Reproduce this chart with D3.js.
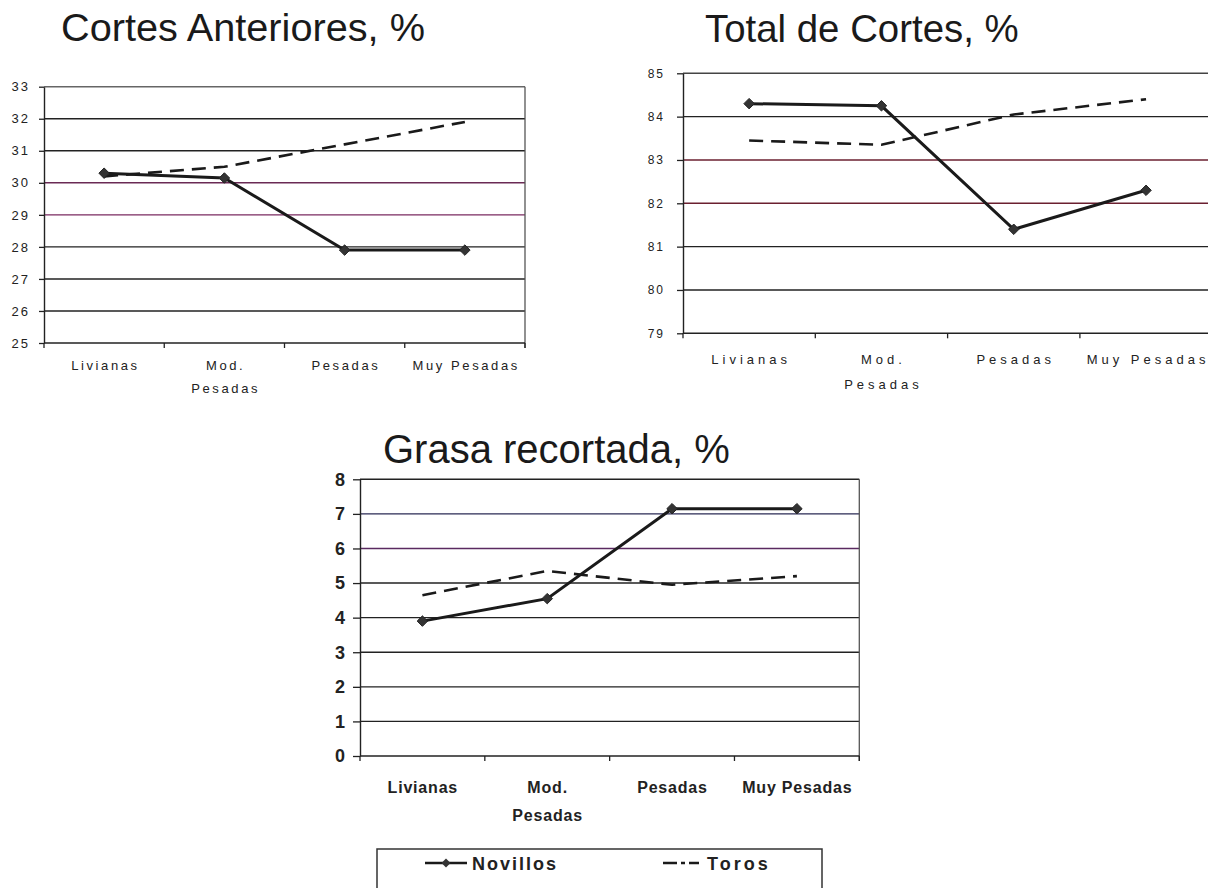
<!DOCTYPE html>
<html>
<head>
<meta charset="utf-8">
<script src="https://cdn.jsdelivr.net/npm/d3@7"></script>
<style>
  html, body { margin: 0; padding: 0; background: #fff; }
  svg { display: block; }
  text { font-family: "Liberation Sans", Arial, sans-serif; fill: #222; }
</style>
</head>
<body>
<svg id="chart" width="1208" height="888"></svg>
<script>
// Categories (weight classes) shared by the three panels
const categories = ["Livianas", "Mod. Pesadas", "Pesadas", "Muy Pesadas"];
const categoryLines = [["Livianas"], ["Mod.", "Pesadas"], ["Pesadas"], ["Muy Pesadas"]];
const seriesNames = ["Novillos", "Toros"];

// Cortes Anteriores, %
const anterioresTicks = [25, 26, 27, 28, 29, 30, 31, 32, 33];
const anterioresNovillos = [30.3, 30.15, 27.9, 27.9];
const anterioresToros = [30.2, 30.5, 31.2, 31.9];

// Total de Cortes, %
const totalTicks = [79, 80, 81, 82, 83, 84, 85];
const totalNovillos = [84.3, 84.25, 81.4, 82.3];
const totalToros = [83.45, 83.35, 84.05, 84.4];

// Grasa recortada, %
const grasaTicks = [0, 1, 2, 3, 4, 5, 6, 7, 8];
const grasaNovillos = [3.9, 4.55, 7.15, 7.15];
const grasaToros = [4.65, 5.35, 4.95, 5.2];

const svg = d3.select("#chart");

// Square-rotated diamond marker
const diamond = {
  draw(ctx, size) {
    const r = Math.sqrt(size) / 2;
    ctx.moveTo(0, -r); ctx.lineTo(r, 0); ctx.lineTo(0, r); ctx.lineTo(-r, 0); ctx.closePath();
  }
};

function drawPanel(cfg) {
  const g = svg.append("g");
  const x = d3.scaleBand().domain(categories).range([cfg.x0, cfg.x1]).paddingInner(0).paddingOuter(0);
  const y = d3.scaleLinear().domain(d3.extent(cfg.ticks)).range([cfg.yBottom, cfg.yTop]);
  const cx = c => x(c) + x.bandwidth() / 2;

  // title
  g.append("text")
    .attr("x", cfg.titleX).attr("y", cfg.titleY)
    .style("font-size", cfg.titleSize + "px")
    .style("fill", "#1a1a1a")
    .text(cfg.title);

  // horizontal gridlines
  g.append("g").selectAll("line")
    .data(cfg.ticks.filter(t => t !== cfg.ticks[0]))
    .join("line")
    .attr("x1", cfg.x0).attr("x2", cfg.gridEnd)
    .attr("y1", d => y(d)).attr("y2", d => y(d))
    .attr("stroke", d => cfg.gridTint[d] || (d === cfg.ticks[cfg.ticks.length - 1] ? cfg.topColor : "#222"))
    .attr("stroke-width", 1.4);

  // right border of plot area
  if (cfg.rightBorder) {
    g.append("line")
      .attr("x1", cfg.x1).attr("x2", cfg.x1)
      .attr("y1", cfg.yTop).attr("y2", cfg.yBottom + 5)
      .attr("stroke", "#555").attr("stroke-width", 1.3);
  }

  // value axis
  const yAxis = d3.axisLeft(y).tickValues(cfg.ticks).tickFormat(d3.format("d"))
    .tickSizeInner(cfg.tickLen).tickSizeOuter(0).tickPadding(cfg.tickPad);
  const ya = g.append("g").attr("transform", `translate(${cfg.x0},0)`).call(yAxis);
  ya.select(".domain").attr("stroke", "#222").attr("stroke-width", 1.4);
  ya.selectAll(".tick line").attr("stroke", "#222").attr("stroke-width", 1.3);
  ya.selectAll(".tick text")
    .style("font-family", "'Liberation Sans', Arial, sans-serif")
    .style("font-size", cfg.yFont + "px")
    .style("font-weight", cfg.bold ? "bold" : "normal")
    .style("letter-spacing", cfg.yLetter + "px")
    .attr("fill", cfg.bold ? "#1a1a1a" : "#3a3a3a");

  // category axis baseline and boundary ticks
  g.append("line")
    .attr("x1", cfg.x0).attr("x2", cfg.gridEnd)
    .attr("y1", cfg.yBottom).attr("y2", cfg.yBottom)
    .attr("stroke", "#222").attr("stroke-width", 1.5);
  const bounds = categories.map(c => x(c)).concat([cfg.x1]);
  g.append("g").selectAll("line")
    .data(bounds)
    .join("line")
    .attr("x1", d => d).attr("x2", d => d)
    .attr("y1", cfg.yBottom).attr("y2", cfg.yBottom + 5)
    .attr("stroke", "#222").attr("stroke-width", 1.3);

  // category labels
  const lab = g.append("g").selectAll("text")
    .data(categories)
    .join("text")
    .attr("x", d => cx(d))
    .attr("y", cfg.labelY)
    .attr("text-anchor", "middle")
    .style("font-size", cfg.xFont + "px")
    .style("font-weight", cfg.bold ? "bold" : "normal")
    .style("letter-spacing", cfg.xLetter + "px")
    .attr("fill", cfg.bold ? "#1a1a1a" : "#3a3a3a");
  lab.each(function (d, i) {
    const t = d3.select(this);
    categoryLines[i].forEach((line, j) => {
      t.append("tspan")
        .attr("x", cx(d) + cfg.xLetter / 2)
        .attr("dy", j === 0 ? 0 : cfg.labelGap)
        .text(line);
    });
  });

  // series
  const line = d3.line().x((d, i) => cx(categories[i])).y(d => y(d));
  g.append("path")
    .datum(cfg.toros)
    .attr("d", line)
    .attr("fill", "none")
    .attr("stroke", "#1a1a1a")
    .attr("stroke-width", 2.6)
    .attr("stroke-dasharray", "14,8");
  g.append("path")
    .datum(cfg.novillos)
    .attr("d", line)
    .attr("fill", "none")
    .attr("stroke", "#1a1a1a")
    .attr("stroke-width", 3);
  g.append("g").selectAll("path")
    .data(cfg.novillos)
    .join("path")
    .attr("transform", (d, i) => `translate(${cx(categories[i])},${y(d)})`)
    .attr("d", d3.symbol().type(diamond).size(110))
    .attr("fill", "#333")
    .attr("stroke", "#222")
    .attr("stroke-width", 1);
}

drawPanel({
  title: "Cortes Anteriores, %", titleX: 61, titleY: 41, titleSize: 39.7,
  x0: 44, x1: 525, gridEnd: 525, yTop: 86.7, yBottom: 343,
  ticks: anterioresTicks, novillos: anterioresNovillos, toros: anterioresToros,
  gridTint: { 30: "#6a2a55", 29: "#7a2a60" }, topColor: "#666",
  tickLen: 5, tickPad: 9, yFont: 13, yLetter: 2, xFont: 13, xLetter: 2.6,
  labelY: 370, labelGap: 23, bold: false, rightBorder: true
});

drawPanel({
  title: "Total de Cortes, %", titleX: 705, titleY: 42, titleSize: 38.4,
  x0: 683, x1: 683 + 4 * 132.3, gridEnd: 1208, yTop: 73.3, yBottom: 333.3,
  ticks: totalTicks, novillos: totalNovillos, toros: totalToros,
  gridTint: { 83: "#6b2030", 82: "#6b2030" }, topColor: "#444",
  tickLen: 6, tickPad: 12, yFont: 12, yLetter: 2, xFont: 13, xLetter: 4,
  labelY: 364, labelGap: 25, bold: false, rightBorder: false
});

drawPanel({
  title: "Grasa recortada, %", titleX: 383, titleY: 463, titleSize: 40,
  x0: 360, x1: 859.3, gridEnd: 859.3, yTop: 479.3, yBottom: 756,
  ticks: grasaTicks, novillos: grasaNovillos, toros: grasaToros,
  gridTint: { 6: "#5a2a60", 7: "#2a2a55" }, topColor: "#222",
  tickLen: 7, tickPad: 8, yFont: 18, yLetter: 0, xFont: 16, xLetter: 0.8,
  labelY: 793, labelGap: 28, bold: true, rightBorder: true
});

// legend
const legend = svg.append("g");
legend.append("rect")
  .attr("x", 377).attr("y", 849).attr("width", 445).attr("height", 60)
  .attr("fill", "#fff").attr("stroke", "#333").attr("stroke-width", 1.5);
const legendItems = [
  { name: seriesNames[0], x1: 425, x2: 467, tx: 472, dash: null, marker: true },
  { name: seriesNames[1], x1: 663, x2: 703, tx: 707, dash: "14,4,4,4,10", marker: false }
];
legendItems.forEach(it => {
  legend.append("line")
    .attr("x1", it.x1).attr("x2", it.x2).attr("y1", 863).attr("y2", 863)
    .attr("stroke", "#1a1a1a").attr("stroke-width", 2.6)
    .attr("stroke-dasharray", it.dash);
  if (it.marker) {
    legend.append("path")
      .attr("transform", `translate(${(it.x1 + it.x2) / 2},863)`)
      .attr("d", d3.symbol().type(diamond).size(80))
      .attr("fill", "#333");
  }
  legend.append("text")
    .attr("x", it.tx).attr("y", 870)
    .style("font-size", "18px")
    .style("font-weight", "bold")
    .style("letter-spacing", it.marker ? "2px" : "3px")
    .text(it.name);
});
</script>
</body>
</html>
